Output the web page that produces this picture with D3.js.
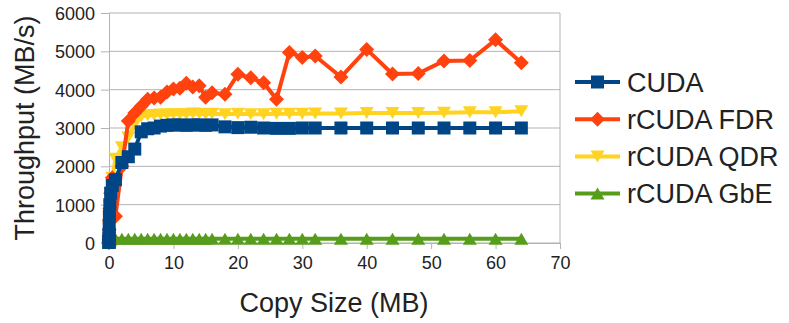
<!DOCTYPE html>
<html>
<head>
<meta charset="utf-8">
<script src="https://cdn.jsdelivr.net/npm/d3@7"></script>
<style>
  html, body { margin: 0; padding: 0; background: #fff; }
  svg { display: block; font-family: "Liberation Sans", Arial, sans-serif; }
</style>
</head>
<body>
<svg id="chart" width="789" height="323"></svg>
<script>
// Copy sizes in MB
const sizes = [0.001, 0.002, 0.004, 0.008, 0.016, 0.032, 0.064, 0.128, 0.256, 0.512, 1,
  2, 3, 4, 5, 6, 7, 8, 9, 10, 11, 12, 13, 14, 15, 16,
  18, 20, 22, 24, 26, 28, 30, 32,
  36, 40, 44, 48, 52, 56, 60, 64];

// Throughput in MB/s
const cuda = [15, 30, 60, 120, 230, 420, 700, 1000, 1300, 1500, 1650,
  2100, 2250, 2450, 2900, 2980, 3000, 3050, 3070, 3080, 3080, 3070, 3080, 3080, 3070, 3080,
  3030, 3010, 3020, 3000, 2990, 2990, 3000, 3000,
  3000, 3000, 3000, 3000, 3000, 3000, 3000, 3000];
const rcudaFDR = [10, 20, 45, 90, 180, 350, 600, 900, 1300, 1700, 700,
  2000, 3180, 3390, 3570, 3750, 3780, 3800, 3940, 4020, 4040, 4170, 4070, 4100, 3800, 3920,
  3880, 4400, 4310, 4180, 3750, 4970, 4840, 4880,
  4330, 5050, 4410, 4420, 4750, 4760, 5300, 4700];
const rcudaQDR = [10, 25, 50, 100, 200, 380, 650, 950, 1300, 1700, 2200,
  2500, 2750, 3100, 3300, 3330, 3340, 3350, 3350, 3360, 3360, 3360, 3380, 3370, 3360, 3370,
  3360, 3370, 3360, 3360, 3370, 3370, 3370, 3380,
  3380, 3390, 3390, 3390, 3400, 3410, 3410, 3440];
const rcudaGbE = [2, 4, 8, 15, 28, 45, 65, 85, 100, 108, 110,
  112, 112, 112, 112, 112, 112, 112, 112, 112, 112, 112, 112, 112, 112, 112,
  112, 112, 112, 112, 112, 112, 112, 112,
  112, 112, 112, 112, 112, 112, 112, 112];

const seriesNames = ["CUDA", "rCUDA FDR", "rCUDA QDR", "rCUDA GbE"];
const xTicks = [0, 10, 20, 30, 40, 50, 60, 70];
const yTicks = [0, 1000, 2000, 3000, 4000, 5000, 6000];

const series = [
  { name: seriesNames[0], values: cuda, color: "#004586", marker: "square" },
  { name: seriesNames[1], values: rcudaFDR, color: "#ff420e", marker: "diamond" },
  { name: seriesNames[2], values: rcudaQDR, color: "#ffd320", marker: "triangleDown" },
  { name: seriesNames[3], values: rcudaGbE, color: "#579d1c", marker: "triangleUp" }
];

const svg = d3.select("#chart");
const x = d3.scaleLinear().domain([0, 70]).range([109, 560]);
const y = d3.scaleLinear().domain([0, 6000]).range([243, 13]);

// Marker shapes
function markerPath(type) {
  switch (type) {
    case "square": return "M-6.5,-6.5H6.5V6.5H-6.5Z";
    case "diamond": return "M0,-7.5L7.5,0L0,7.5L-7.5,0Z";
    case "triangleDown": return "M-7,-6L7,-6L0,6Z";
    case "triangleUp": return "M0,-6L7,6L-7,6Z";
  }
}

// Horizontal gridlines
svg.append("g").selectAll("line").data(yTicks).join("line")
  .attr("x1", x(0)).attr("x2", x(70))
  .attr("y1", d => y(d)).attr("y2", d => y(d))
  .attr("stroke", "#b3b3b3").attr("stroke-width", 1);

// Right wall
svg.append("line")
  .attr("x1", x(70)).attr("x2", x(70)).attr("y1", y(6000)).attr("y2", y(0))
  .attr("stroke", "#b3b3b3");

// Axes
const yAxis = d3.axisLeft(y).tickValues(yTicks).tickSize(8).tickPadding(6).tickFormat(d3.format("d"));
const xAxis = d3.axisBottom(x).tickValues(xTicks).tickSize(6).tickPadding(7).tickFormat(d3.format("d"));

const gy = svg.append("g").attr("transform", `translate(${x(0)},0)`).call(yAxis);
const gx = svg.append("g").attr("transform", `translate(0,${y(0)})`).call(xAxis);
[gx, gy].forEach(g => {
  g.select(".domain").attr("stroke", "#b3b3b3").attr("stroke-width", 1);
  g.selectAll(".tick line").attr("stroke", "#b3b3b3");
  g.selectAll(".tick text").attr("fill", "#222").style("font-size", "18px")
    .style("font-family", "'Liberation Sans', Arial, sans-serif");
});
gy.selectAll(".tick text").attr("dy", "0.36em");

// Series lines and markers (drawn last-to-first so CUDA sits on top)
const line = d3.line().x((d, i) => x(sizes[i])).y(d => y(d));
const plot = svg.append("g");
series.slice().reverse().forEach(s => {
  const g = plot.append("g");
  g.append("path").datum(s.values)
    .attr("d", line).attr("fill", "none")
    .attr("stroke", s.color).attr("stroke-width", 4).attr("stroke-linejoin", "round");
  g.selectAll("path.m").data(s.values).join("path").attr("class", "m")
    .attr("d", markerPath(s.marker))
    .attr("transform", (d, i) => `translate(${x(sizes[i])},${y(d)})`)
    .attr("fill", s.color);
});

// Axis titles
svg.append("text")
  .attr("x", 334).attr("y", 312).attr("text-anchor", "middle")
  .attr("fill", "#222").style("font-size", "27px")
  .text("Copy Size (MB)");
svg.append("text")
  .attr("transform", "translate(34,128) rotate(-90)").attr("text-anchor", "middle")
  .attr("fill", "#222").style("font-size", "27px")
  .text("Throughput (MB/s)");

// Legend
const legend = svg.append("g");
series.forEach((s, i) => {
  const cy = 82 + i * 37.2;
  const g = legend.append("g").attr("transform", `translate(0,${cy})`);
  g.append("line").attr("x1", 575).attr("x2", 620).attr("y1", 0).attr("y2", 0)
    .attr("stroke", s.color).attr("stroke-width", 4);
  g.append("path").attr("d", markerPath(s.marker))
    .attr("transform", "translate(597.5,0)").attr("fill", s.color);
  g.append("text").attr("x", 627).attr("y", 9.5)
    .attr("fill", "#222").style("font-size", "27px")
    .text(s.name);
});
</script>
</body>
</html>
